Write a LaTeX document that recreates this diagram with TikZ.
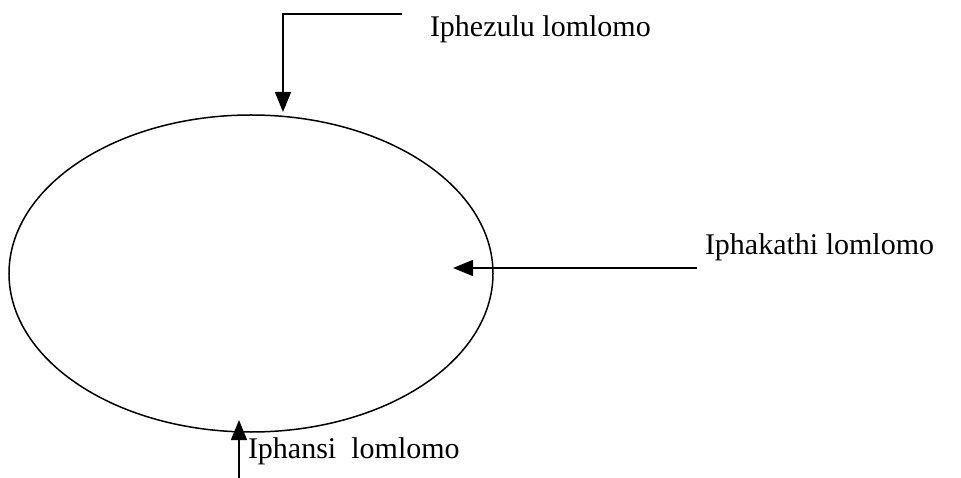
\documentclass[tikz,border=0pt]{standalone}
\usepackage{fontspec}
\setmainfont{Liberation Serif}
\usetikzlibrary{shapes.geometric,arrows.meta}
\begin{document}
\begin{tikzpicture}[x=1pt,y=-1pt,line width=1.5pt,>={Triangle[length=20pt,width=16pt]},
        every node/.style={font=\fontsize{30}{34}\selectfont,inner sep=0pt,outer sep=0pt}]
        \useasboundingbox (0,0) rectangle (961,478);

        \node [ellipse, draw, minimum width=484pt, minimum height=317pt] at (251,273.5) (mouth) {};

        \node [anchor=base west] at (430,37) (toplabel) {Iphezulu lomlomo};
        \node [anchor=base west] at (705,255) (midlabel) {Iphakathi lomlomo};
        \node [anchor=base west] at (248,458) (lowlabel) {Iphansi\ \ lomlomo};

        \coordinate (topstart) at (402,14);
        \coordinate (toptip) at (283,112);
        \coordinate (midstart) at (697,268);
        \coordinate (midtip) at (453,268);
        \coordinate (lowstart) at (239,478);
        \coordinate (lowtip) at (239,420);

        \draw [->] (topstart) -- (toptip |- topstart) -- (toptip);
        \draw [->] (midstart) -- (midtip);
        \draw [->] (lowstart) -- (lowtip);

\end{tikzpicture}
\end{document}
